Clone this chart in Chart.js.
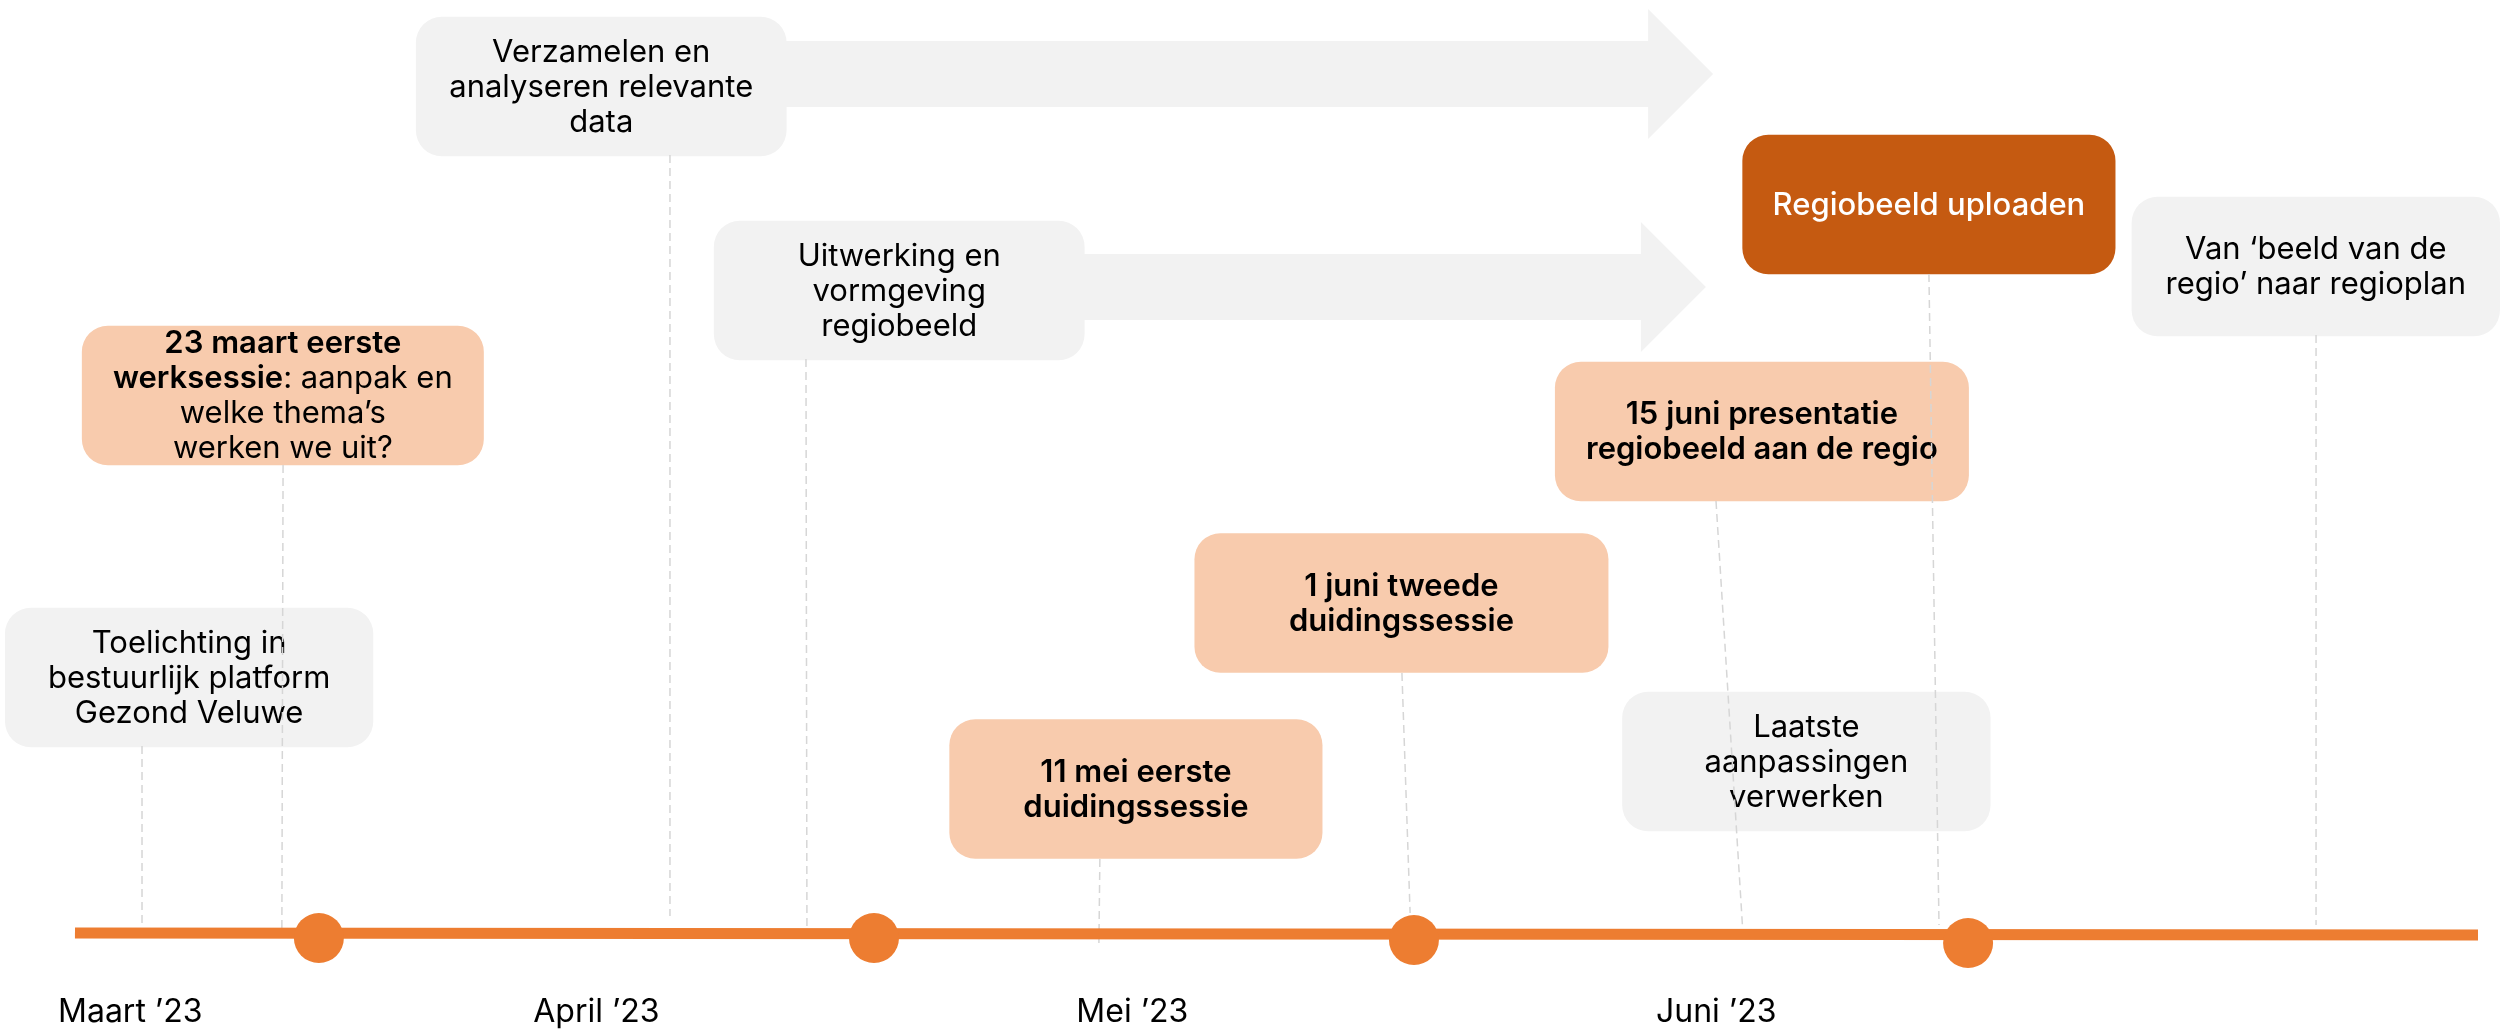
<!DOCTYPE html>
<html>
<head>
<meta charset="utf-8">
<title>Tijdlijn regiobeeld</title>
<script src="https://cdn.jsdelivr.net/npm/chart.js@4/dist/chart.umd.min.js"></script>
<style>
  html, body { margin: 0; padding: 0; background: #fff; }
  #wrap { width: 2503px; height: 1031px; }
</style>
</head>
<body>
<div id="wrap"><canvas id="timeline"></canvas></div>
<script>
// x = position along the timeline (0 = left end, 100 = right end)
// y = height above the timeline (0 = timeline)
const monthLabels = ['Maart ’23', 'April ’23', 'Mei ’23', 'Juni ’23'];
const monthPos = [2.3, 21.7, 44.0, 68.3];

const timelineX = [0, 100];
const timelineY = [0, -0.2];

const milestoneX = [10.15, 33.25, 55.72, 78.78];
const milestoneY = [-0.5, -0.5, -0.7, -1.0];

// boxes: ** marks bold text
const boxText = [
  ['Verzamelen en', 'analyseren relevante', 'data'],
  ['Uitwerking en', 'vormgeving', 'regiobeeld'],
  ['**23 maart eerste**', '**werksessie**: aanpak en', 'welke thema’s', 'werken we uit?'],
  ['Toelichting in', 'bestuurlijk platform', 'Gezond Veluwe'],
  ['**11 mei eerste**', '**duidingssessie**'],
  ['**1 juni tweede**', '**duidingssessie**'],
  ['Laatste', 'aanpassingen', 'verwerken'],
  ['**15 juni presentatie**', '**regiobeeld aan de regio**'],
  ['Regiobeeld uploaden'],
  ['Van ‘beeld van de', 'regio’ naar regioplan'],
];
const boxKind = ['grey', 'grey', 'peach', 'grey', 'peach', 'peach', 'grey', 'peach', 'dark', 'grey'];
const boxStart = [14.2, 26.6, 0.3, -2.9, 36.4, 46.6, 64.4, 61.6, 69.4, 85.6];
const boxEnd = [29.6, 42.0, 17.0, 12.4, 51.9, 63.8, 79.7, 78.8, 84.9, 100.9];
const boxLevel = [84.65, 64.25, 53.75, 25.55, 14.4, 33.0, 17.15, 50.15, 72.85, 66.65];

// dashed connectors from box to timeline
const connFromX = [2.79, 8.66, 24.76, 30.42, 42.65, 55.22, 68.29, 77.15, 93.26];
const connToX = [2.79, 8.61, 24.76, 30.46, 42.61, 55.56, 69.41, 77.57, 93.26];
const connFromY = [18.7, 46.8, 77.8, 57.4, 7.4, 26.0, 43.2, 65.9, 59.8];
const connToY = [0.5, 0.5, 1.7, 0.5, -1.0, 2.0, 0.0, 0.8, 0.8];

// big grey arrows behind the two process boxes
const arrowFrom = [29.0, 41.5];
const arrowTo = [68.17, 67.87];
const arrowLevel = [85.9, 64.6];

const boxColors = { grey: '#f2f2f2', peach: '#f8cbad', dark: '#c55a11' };
const orange = '#ed7d31';

Chart.defaults.font.family = 'Inter';

const arrowPlugin = {
  id: 'arrows',
  beforeDatasetsDraw(chart) {
    const { ctx, scales: { x, y } } = chart;
    ctx.save();
    ctx.fillStyle = '#f2f2f2';
    arrowFrom.forEach((from, i) => {
      const x0 = x.getPixelForValue(from);
      const x2 = x.getPixelForValue(arrowTo[i]);
      const x1 = x2 - 65;
      const yc = y.getPixelForValue(arrowLevel[i]);
      ctx.beginPath();
      ctx.moveTo(x0, yc - 33);
      ctx.lineTo(x1, yc - 33);
      ctx.lineTo(x1, yc - 65);
      ctx.lineTo(x2, yc);
      ctx.lineTo(x1, yc + 65);
      ctx.lineTo(x1, yc + 33);
      ctx.lineTo(x0, yc + 33);
      ctx.closePath();
      ctx.fill();
    });
    ctx.restore();
  },
};

const boxLabelPlugin = {
  id: 'boxLabels',
  afterDatasetDraw(chart, args) {
    if (args.index !== 0) return;
    const ctx = chart.ctx;
    const lineH = 35;
    ctx.save();
    ctx.textBaseline = 'middle';
    ctx.textAlign = 'left';
    args.meta.data.forEach((bar, i) => {
      const p = bar.getProps(['x', 'y', 'base'], true);
      const cx = (p.x + p.base) / 2;
      const lines = boxText[i];
      const dark = boxKind[i] === 'dark';
      ctx.fillStyle = dark ? '#ffffff' : '#000000';
      lines.forEach((line, j) => {
        const ly = p.y - (lines.length - 1) * lineH / 2 + j * lineH + 1;
        const parts = line.split('**').map((t, k) => ({
          t,
          font: (k % 2 ? '600 ' : dark ? '500 ' : '400 ') + '31px Inter',
        })).filter(s => s.t.length);
        let total = 0;
        parts.forEach(s => { ctx.font = s.font; s.w = ctx.measureText(s.t).width; total += s.w; });
        let xx = cx - total / 2;
        parts.forEach(s => { ctx.font = s.font; ctx.fillText(s.t, xx, ly); xx += s.w; });
      });
    });
    ctx.restore();
  },
};

const datasets = [
  {
    type: 'bar',
    indexAxis: 'y',
    data: boxStart.map((s, i) => ({ y: boxLevel[i], x: [s, boxEnd[i]] })),
    backgroundColor: boxKind.map(k => boxColors[k]),
    borderRadius: 26,
    borderSkipped: false,
    borderWidth: 0,
    barThickness: 139,
    order: 4,
  },
  {
    type: 'line',
    data: timelineX.map((v, i) => ({ x: v, y: timelineY[i] })),
    borderColor: orange,
    borderWidth: 11,
    borderCapStyle: 'butt',
    pointRadius: 0,
    order: 2,
  },
  {
    type: 'line',
    data: milestoneX.map((v, i) => ({ x: v, y: milestoneY[i] })),
    showLine: false,
    pointRadius: 25,
    pointBackgroundColor: orange,
    pointBorderWidth: 0,
    order: 1,
  },
];
connFromX.forEach((fx, i) => {
  datasets.push({
    type: 'line',
    data: [{ x: fx, y: connFromY[i] }, { x: connToX[i], y: connToY[i] }],
    borderColor: '#d6d6d6',
    borderWidth: 1.5,
    borderDash: [8, 5],
    pointRadius: 0,
    order: 3,
  });
});

const ctx = document.getElementById('timeline').getContext('2d');
const timelineChart = new Chart(ctx, {
  type: 'scatter',
  data: { datasets: datasets },
  plugins: [arrowPlugin, boxLabelPlugin],
  options: {
    responsive: true,
    maintainAspectRatio: false,
    animation: false,
    events: [],
    layout: { padding: 0, autoPadding: false },
    plugins: {
      legend: { display: false },
      tooltip: { enabled: false },
      title: { display: false },
    },
    scales: {
      x: {
        type: 'linear',
        min: -3.12,
        max: 101.04,
        offset: false,
        grid: { display: false, drawTicks: false },
        border: { display: false },
        afterBuildTicks: (axis) => { axis.ticks = monthPos.map(v => ({ value: v })); },
        afterFit: (axis) => { axis.height = 50; },
        ticks: {
          autoSkip: false,
          maxRotation: 0,
          padding: 12,
          color: '#000',
          font: { family: 'Inter', size: 32 },
          callback: (v, i) => monthLabels[i],
        },
      },
      y: {
        type: 'linear',
        display: false,
        min: -4.8,
        max: 93.3,
        offset: false,
      },
    },
  },
});
</script>
</body>
</html>
